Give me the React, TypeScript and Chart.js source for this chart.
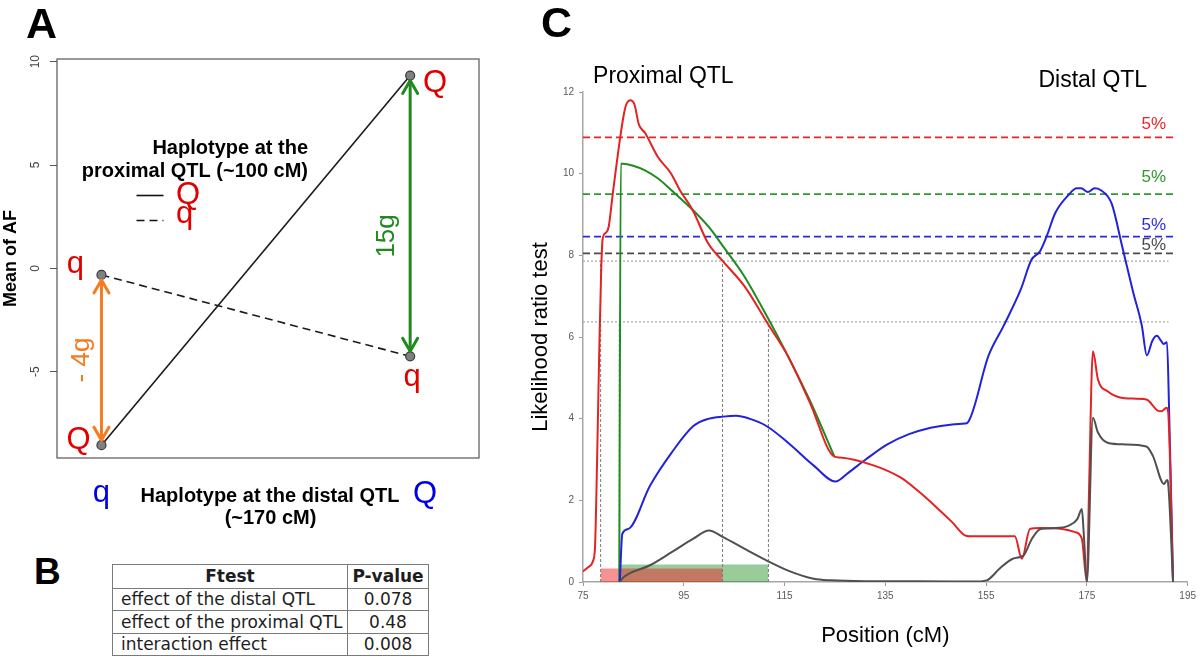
import React, { useEffect, useRef } from 'react';
import { Chart, registerables } from 'chart.js';

Chart.register(...registerables);

const SANS = '"Liberation Sans", Arial, Helvetica, sans-serif';
const NARROW = '"Liberation Sans Narrow", "Arial Narrow", "Liberation Sans", Arial, sans-serif';

// ---------------- Panel A : interaction plot ----------------
const distalHaplotypes = [1, 2]; // q, Q at the distal QTL
const meanAFProximalQ = [-8.56, 9.33];
const meanAFProximalq = [-0.32, -4.26];
const aYTicks = [-5, 0, 5, 10];

// ---------------- Panel B : F tests ----------------
const ftestNames = ['effect of the distal QTL', 'effect of the proximal QTL', 'interaction effect'];
const ftestPValues = ['0.078', '0.48', '0.008'];

// ---------------- Panel C : LRT profiles ----------------
const xTickValues = [75, 95, 115, 135, 155, 175, 195];

const redPos = [75, 76, 77, 77.4, 77.8, 78.2, 78.6, 78.9, 79.5, 80.1, 80.9, 82.4, 83.1, 83.6, 84.4, 85.2, 86.1, 87.3, 89.9, 92.5, 94.2, 96.8, 99.8, 102.8, 107, 111.8, 115.6, 120, 124.9, 126, 132.8, 138, 141.4, 144.8, 148.3, 150.8, 151.7, 160.7, 162.1, 163.7, 165.8, 170.1, 172.7, 174, 175, 175.4, 176.2, 177.2, 179.1, 182.5, 186.8, 189, 189.8, 190.8, 191.1, 192.1];
const redLRT = [0.26, 0.36, 0.52, 0.9, 3.0, 5.5, 7.6, 8.4, 8.55, 8.7, 9.5, 10.9, 11.45, 11.7, 11.8, 11.7, 11.2, 11.0, 10.4, 10.0, 9.6, 9.1, 8.3, 7.85, 7.25, 6.3, 5.55, 4.4, 3.07, 3.05, 2.85, 2.56, 2.24, 1.87, 1.46, 1.14, 1.12, 1.12, 0.57, 1.3, 1.32, 1.3, 1.22, 1.06, 0, 2.1, 5.65, 4.96, 4.67, 4.5, 4.47, 4.2, 4.18, 4.27, 4.2, 0];

const greenPos = [82.2, 82.5, 83, 84.8, 87.3, 89.9, 92.5, 96.8, 100.2, 102.8, 107, 111.8, 115.6, 120, 124.9];
const greenLRT = [0, 10.24, 10.24, 10.2, 10.08, 9.88, 9.6, 9.11, 8.66, 8.22, 7.49, 6.44, 5.55, 4.45, 3.07];

const bluePos = [82.3, 82.8, 84, 88.3, 92.6, 96.9, 100, 102.8, 105.4, 108, 111.4, 115.7, 120.8, 125.1, 127.7, 131.1, 135.4, 139.7, 144, 148.3, 150.8, 151.3, 155.5, 158.5, 161.9, 164, 165.7, 167, 168.7, 171.3, 173, 173.9, 175.2, 176.5, 177.7, 179.9, 182, 184.2, 185.9, 186.9, 188, 188.9, 189.7, 190.2, 190.9, 191.3, 192.1];
const blueLRT = [0, 1.18, 1.3, 2.36, 3.17, 3.82, 4.0, 4.05, 4.07, 4.0, 3.82, 3.41, 2.85, 2.46, 2.68, 3.0, 3.37, 3.62, 3.78, 3.86, 3.88, 3.9, 5.55, 6.28, 7.17, 7.89, 8.1, 8.46, 9.03, 9.47, 9.64, 9.64, 9.55, 9.64, 9.6, 9.27, 8.22, 7.09, 6.28, 5.55, 5.91, 6.03, 5.91, 5.83, 5.87, 4.3, 0];

const greyPos = [82.3, 83.1, 88.3, 92.6, 96.9, 100, 102.8, 107.1, 111.4, 115.7, 120.8, 124.3, 131.1, 148.3, 152.5, 155.1, 157.7, 160.3, 162.4, 164.1, 165.8, 168.8, 171.4, 173.1, 174, 174.4, 175, 176.2, 177.2, 179.1, 182.5, 186.8, 188.1, 190.3, 190.9, 191.1, 192.1];
const greyLRT = [0, 0.12, 0.41, 0.73, 1.06, 1.26, 1.1, 0.81, 0.53, 0.28, 0.08, 0.04, 0.02, 0.015, 0.01, 0.04, 0.33, 0.57, 0.65, 1.06, 1.3, 1.32, 1.38, 1.54, 1.79, 1.14, 0, 4.02, 3.66, 3.41, 3.37, 3.32, 3.09, 2.4, 2.5, 2.44, 0];

const thresholdLRT = [10.89, 9.5, 8.46, 8.05];
const thresholdColors = ['#e32626', '#2f992f', '#2a2ae0', '#4a4a4a'];
const thresholdLabels = ['5%', '5%', '5%', '5%'];
const supportLRT = [7.86, 6.37];
const redSupportInterval = [78.5, 102.7];
const greenSupportInterval = [82.2, 111.8];
const redIntervalBar = 0.33;
const greenIntervalBar = 0.43;

const pts = (xs: number[], ys: number[]) => xs.map((x, i) => ({ x, y: ys[i] }));

const aDecor = {
  id: 'aDecor',
  afterDatasetsDraw(chart: any) {
    const { ctx, chartArea: ca, scales } = chart;
    const x = scales.x;
    const y = scales.y;
    ctx.save();
    // frame
    ctx.strokeStyle = '#555';
    ctx.lineWidth = 1.2;
    ctx.strokeRect(ca.left, ca.top, ca.right - ca.left, ca.bottom - ca.top);

    // rotated tick labels (R style)
    ctx.fillStyle = '#444';
    ctx.font = `12px ${SANS}`;
    ctx.textAlign = 'center';
    ctx.textBaseline = 'middle';
    y.ticks.forEach((t: any) => {
      ctx.save();
      ctx.translate(36, y.getPixelForValue(t.value));
      ctx.rotate(-Math.PI / 2);
      ctx.fillText(String(t.value), 0, 0);
      ctx.restore();
    });

    const arrow = (xv: number, yFrom: number, yTo: number, color: string) => {
      const px = x.getPixelForValue(xv);
      let y1 = y.getPixelForValue(yFrom);
      let y2 = y.getPixelForValue(yTo);
      const dir = Math.sign(y2 - y1);
      y1 += dir * 5;
      y2 -= dir * 5;
      ctx.strokeStyle = color;
      ctx.lineWidth = 3;
      ctx.lineCap = 'round';
      ctx.lineJoin = 'round';
      ctx.beginPath();
      ctx.moveTo(px, y1);
      ctx.lineTo(px, y2);
      ctx.stroke();
      const head = (ty: number, d: number) => {
        ctx.beginPath();
        ctx.moveTo(px - 7.5, ty + d * 13);
        ctx.lineTo(px, ty);
        ctx.lineTo(px + 7.5, ty + d * 13);
        ctx.stroke();
      };
      head(y1, dir);
      head(y2, -dir);
      return { px, mid: (y1 + y2) / 2 };
    };
    const orange = arrow(distalHaplotypes[0], meanAFProximalq[0], meanAFProximalQ[0], '#f47b20');
    const green = arrow(distalHaplotypes[1], meanAFProximalQ[1], meanAFProximalq[1], '#1f8a1f');

    const rotText = (txt: string, cx: number, cy: number, color: string) => {
      ctx.save();
      ctx.translate(cx, cy);
      ctx.rotate(-Math.PI / 2);
      ctx.fillStyle = color;
      ctx.font = `26px ${SANS}`;
      ctx.textAlign = 'center';
      ctx.textBaseline = 'middle';
      ctx.fillText(txt, 0, 0);
      ctx.restore();
    };
    rotText('- 4g', orange.px - 20, orange.mid, '#f47b20');
    rotText('15g', green.px - 23, green.mid + 20, '#1f8a1f');

    // haplotype letters at points
    const px1 = x.getPixelForValue(distalHaplotypes[0]);
    const px2 = x.getPixelForValue(distalHaplotypes[1]);
    ctx.fillStyle = '#e00000';
    ctx.font = `31px ${SANS}`;
    ctx.textAlign = 'center';
    ctx.textBaseline = 'middle';
    ctx.fillText('Q', px1 - 23, y.getPixelForValue(meanAFProximalQ[0]) - 5);
    ctx.fillText('Q', px2 + 25, y.getPixelForValue(meanAFProximalQ[1]) + 8);
    ctx.textBaseline = 'alphabetic';
    ctx.fillText('q', px1 - 26, y.getPixelForValue(meanAFProximalq[0]) - 1.5);
    ctx.fillText('q', px2 + 2, y.getPixelForValue(meanAFProximalq[1]) + 30);

    // legend
    ctx.fillStyle = '#000';
    ctx.font = `bold 20px ${SANS}`;
    ctx.textAlign = 'right';
    ctx.textBaseline = 'middle';
    ctx.fillText('Haplotype at the', 308, 148);
    ctx.fillText('proximal QTL (~100 cM)', 308, 171);
    ctx.strokeStyle = '#111';
    ctx.lineWidth = 1.6;
    ctx.lineCap = 'butt';
    ctx.beginPath();
    ctx.moveTo(136.5, 195.5);
    ctx.lineTo(163.5, 195.5);
    ctx.stroke();
    ctx.setLineDash([8, 5]);
    ctx.beginPath();
    ctx.moveTo(136.5, 220.5);
    ctx.lineTo(163.5, 220.5);
    ctx.stroke();
    ctx.setLineDash([]);
    ctx.fillStyle = '#e00000';
    ctx.font = `31px ${SANS}`;
    ctx.textAlign = 'left';
    ctx.textBaseline = 'middle';
    ctx.fillText('Q', 176, 195.5);
    ctx.textBaseline = 'alphabetic';
    ctx.fillText('q', 176, 223);

    // distal haplotype axis labels
    ctx.fillStyle = '#0000e6';
    ctx.textAlign = 'center';
    ctx.fillText('q', px1, 502);
    ctx.textBaseline = 'middle';
    ctx.fillText('Q', px2 + 15, 494);
    ctx.fillStyle = '#000';
    ctx.font = `bold 20px ${SANS}`;
    ctx.fillText('Haplotype at the distal QTL', 270, 496);
    ctx.fillText('(~170 cM)', 270.5, 518);

    // panel letter
    ctx.font = `bold 43px ${SANS}`;
    ctx.textAlign = 'left';
    ctx.textBaseline = 'alphabetic';
    ctx.fillText('A', 26, 38);
    ctx.restore();
  },
};

const cDecor = {
  id: 'cDecor',
  afterDraw(chart: any) {
    const { ctx, scales } = chart;
    const x = scales.x;
    const y = scales.y;
    ctx.save();
    ctx.fillStyle = '#000';
    ctx.font = `bold 43px ${SANS}`;
    ctx.textAlign = 'left';
    ctx.textBaseline = 'alphabetic';
    ctx.fillText('C', 21, 37);
    ctx.font = `23px ${SANS}`;
    ctx.fillText('Proximal QTL', x.getPixelForValue(77), 83);
    ctx.fillText('Distal QTL', x.getPixelForValue(165.4), 87);
    const lift = [13.3, 16.8, 11.7, 8.3];
    ctx.font = `17px ${SANS}`;
    ctx.textAlign = 'center';
    ctx.textBaseline = 'middle';
    thresholdLRT.forEach((v, i) => {
      ctx.fillStyle = thresholdColors[i];
      ctx.fillText(thresholdLabels[i], x.getPixelForValue(188.3), y.getPixelForValue(v) - lift[i]);
    });
    ctx.restore();
  },
};

export default function App() {
  const aRef = useRef<HTMLCanvasElement>(null);
  const cRef = useRef<HTMLCanvasElement>(null);

  useEffect(() => {
    document.body.style.margin = '0';
    const lineStyle = { pointRadius: 0, fill: false };

    const a = new Chart(aRef.current as HTMLCanvasElement, {
      type: 'line',
      data: {
        datasets: [
          {
            data: pts(distalHaplotypes, meanAFProximalQ),
            borderColor: '#1a1a1a',
            borderWidth: 1.6,
            pointRadius: 4.5,
            pointBackgroundColor: '#808080',
            pointBorderColor: '#3a3a3a',
            pointBorderWidth: 1.2,
          },
          {
            data: pts(distalHaplotypes, meanAFProximalq),
            borderColor: '#1a1a1a',
            borderWidth: 1.6,
            borderDash: [8, 5],
            pointRadius: 4.5,
            pointBackgroundColor: '#808080',
            pointBorderColor: '#3a3a3a',
            pointBorderWidth: 1.2,
          },
        ],
      } as any,
      options: {
        animation: false,
        responsive: false,
        events: [],
        layout: { padding: { left: 0, top: 59, right: 21, bottom: 78 } },
        plugins: { legend: { display: false }, tooltip: { enabled: false } },
        scales: {
          x: { type: 'linear', min: 0.856, max: 2.223, display: false },
          y: {
            type: 'linear',
            min: -9.18,
            max: 10.13,
            afterFit: (s: any) => { s.width = 57; },
            afterBuildTicks: (s: any) => { s.ticks = aYTicks.map((v) => ({ value: v })); },
            ticks: { color: 'rgba(0,0,0,0)', font: { size: 12 } },
            grid: { drawOnChartArea: false, tickLength: 7, color: '#555', lineWidth: 1 },
            border: { display: false },
            title: {
              display: true,
              text: 'Mean of AF',
              color: '#000',
              font: { family: SANS, size: 18, weight: 'bold' },
              padding: { top: 0, bottom: 0 },
            },
          },
        },
      } as any,
      plugins: [aDecor],
    });

    const curve = (xs: number[], ys: number[], color: string, order: number) => ({
      data: pts(xs, ys),
      borderColor: color,
      borderWidth: 2,
      cubicInterpolationMode: 'monotone',
      order,
      ...lineStyle,
    });
    const hline = (v: number, xEnd: number, color: string, dash: number[], width: number, order: number) => ({
      data: [{ x: xTickValues[0], y: v }, { x: xEnd, y: v }],
      borderColor: color,
      borderDash: dash,
      borderWidth: width,
      order,
      ...lineStyle,
    });
    const vline = (xv: number, top: number, order: number) => ({
      data: [{ x: xv, y: 0 }, { x: xv, y: top }],
      borderColor: '#7a7a7a',
      borderDash: [3, 2],
      borderWidth: 1,
      order,
      ...lineStyle,
    });
    const bar = (range: number[], h: number, color: string, order: number) => ({
      data: [{ x: range[0], y: h }, { x: range[1], y: h }],
      borderColor: 'rgba(0,0,0,0)',
      borderWidth: 0,
      backgroundColor: color,
      fill: 'origin',
      pointRadius: 0,
      order,
    });

    const c = new Chart(cRef.current as HTMLCanvasElement, {
      type: 'line',
      data: {
        datasets: [
          bar(greenSupportInterval, greenIntervalBar, 'rgba(30,140,30,0.45)', 31),
          bar(redSupportInterval, redIntervalBar, 'rgba(235,40,40,0.5)', 30),
          hline(supportLRT[0], 191.2, '#a8a8a8', [2, 2], 1.2, 20),
          hline(supportLRT[1], 191.2, '#a8a8a8', [2, 2], 1.2, 20),
          vline(redSupportInterval[0], supportLRT[0], 19),
          vline(redSupportInterval[1], supportLRT[0], 19),
          vline(greenSupportInterval[0], supportLRT[1], 19),
          vline(greenSupportInterval[1], supportLRT[1], 19),
          ...thresholdLRT.map((v, i) => hline(v, 192.4, thresholdColors[i], [7, 4], 1.8, 10 + i)),
          curve(greenPos, greenLRT, '#1e8c1e', 4),
          curve(bluePos, blueLRT, '#2222dd', 3),
          curve(redPos, redLRT, '#e52222', 2),
          curve(greyPos, greyLRT, '#505050', 1),
        ],
      } as any,
      options: {
        animation: false,
        responsive: false,
        events: [],
        layout: { padding: { left: 0, top: 92, right: 10, bottom: 0 } },
        plugins: { legend: { display: false }, tooltip: { enabled: false } },
        scales: {
          x: {
            type: 'linear',
            min: 75,
            max: 195,
            afterFit: (s: any) => { s.height = 75; },
            afterBuildTicks: (s: any) => { s.ticks = xTickValues.map((v) => ({ value: v })); },
            ticks: { color: '#5a5a5a', font: { family: NARROW, size: 10 }, padding: 4, maxRotation: 0, autoSkip: false },
            grid: { drawOnChartArea: false, tickLength: 4, color: '#9a9a9a' },
            border: { color: '#a6a6a6', width: 1.5 },
            title: {
              display: true,
              text: 'Position (cM)',
              color: '#000',
              font: { family: SANS, size: 22 },
              padding: { top: 0, bottom: 8 },
            },
          },
          y: {
            type: 'linear',
            min: 0,
            max: 12,
            afterFit: (s: any) => { s.width = 63; },
            ticks: { stepSize: 2, color: '#5a5a5a', font: { family: NARROW, size: 10 }, padding: 5 },
            grid: { drawOnChartArea: false, tickLength: 4, color: '#9a9a9a' },
            border: { color: '#a6a6a6', width: 1.5 },
            title: {
              display: true,
              text: 'Likelihood ratio test',
              color: '#000',
              font: { family: SANS, size: 22 },
              padding: { top: 8, bottom: 0 },
            },
          },
        },
      } as any,
      plugins: [cDecor],
    });

    return () => {
      a.destroy();
      c.destroy();
    };
  }, []);

  const cell: React.CSSProperties = {
    border: '1px solid #7a7a7a',
    padding: 0,
    whiteSpace: 'nowrap',
    lineHeight: '20px',
  };

  return (
    <div style={{ position: 'relative', width: 1200, height: 657, background: '#fff', overflow: 'hidden', fontFamily: SANS }}>
      <canvas ref={aRef} width={500} height={536} style={{ position: 'absolute', left: 0, top: 0, width: 500, height: 536 }} />
      <div style={{ position: 'absolute', left: 34, top: 550, fontFamily: SANS, fontWeight: 'bold', fontSize: 37, lineHeight: '44px', color: '#000' }}>B</div>
      <table
        style={{
          position: 'absolute',
          left: 112,
          top: 564,
          width: 316,
          borderCollapse: 'collapse',
          tableLayout: 'fixed',
          fontFamily: '"DejaVu Sans", Verdana, sans-serif',
          fontSize: 17,
          color: '#1e1e1e',
        }}
      >
        <colgroup>
          <col style={{ width: 235 }} />
          <col style={{ width: 81 }} />
        </colgroup>
        <tbody>
          <tr style={{ height: 23.5 }}>
            <td style={{ ...cell, textAlign: 'center', fontWeight: 'bold' }}>Ftest</td>
            <td style={{ ...cell, textAlign: 'center', fontWeight: 'bold' }}>P-value</td>
          </tr>
          {ftestNames.map((name, i) => (
            <tr key={name} style={{ height: 22.5 }}>
              <td style={{ ...cell, paddingLeft: 8 }}>{name}</td>
              <td style={{ ...cell, textAlign: 'center' }}>{ftestPValues[i]}</td>
            </tr>
          ))}
        </tbody>
      </table>
      <canvas ref={cRef} width={680} height={657} style={{ position: 'absolute', left: 520, top: 0, width: 680, height: 657 }} />
    </div>
  );
}
